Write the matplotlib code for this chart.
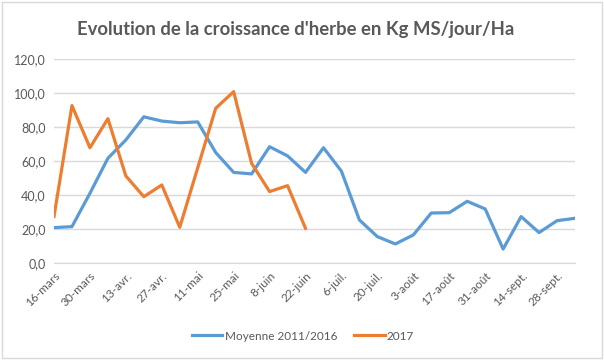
import matplotlib.pyplot as plt
from matplotlib.patches import Rectangle

plt.rcParams['font.family'] = ['Lato', 'DejaVu Sans']

# semaines du 16-mars au 5-oct.
semaines = ['16-mars', '23-mars', '30-mars', '6-avr.', '13-avr.', '20-avr.', '27-avr.', '4-mai',
            '11-mai', '18-mai', '25-mai', '1-juin', '8-juin', '15-juin', '22-juin', '29-juin',
            '6-juil.', '13-juil.', '20-juil.', '27-juil.', '3-août', '10-août', '17-août', '24-août',
            '31-août', '7-sept.', '14-sept.', '21-sept.', '28-sept.', '5-oct.']
moyenne = [20.8, 21.4, 41.0, 61.6, 72.4, 86.0, 83.5, 82.5, 83.0, 65.0,
           53.3, 52.4, 68.4, 63.0, 53.3, 67.8, 54.0, 25.3, 15.5, 11.2,
           16.5, 29.4, 29.6, 36.3, 31.8, 8.2, 27.3, 17.9, 24.9, 26.3]
annee_2017 = [27.3, 92.6, 67.8, 84.9, 51.2, 39.0, 45.9, 21.0, 56.0, 91.0,
              100.8, 58.6, 42.0, 45.5, 20.4]

fig = plt.figure(figsize=[6.04, 3.6], dpi=100)
ax = fig.add_axes([54/604, 1-263/360, (575-54)/604, (263-59)/360])

x = list(range(len(semaines)))
ax.plot(x, moyenne, color='#5B9BD5', lw=2.3, label='Moyenne 2011/2016', solid_joinstyle='round')
ax.plot(x[:len(annee_2017)], annee_2017, color='#ED7D31', lw=2.3, label='2017', solid_joinstyle='round')

ax.set_xlim(0, len(semaines)-1)
ax.set_ylim(0, 120)
ax.set_yticks(range(0, 121, 20))
ax.set_yticklabels(['%d,0' % v for v in range(0, 121, 20)])
ax.set_xticks(x[::2])
ax.set_xticklabels(semaines[::2], rotation=45, ha='right', rotation_mode='anchor')
ax.grid(axis='y', color='#D9D9D9', lw=1)
ax.set_axisbelow(True)
for s in ['top', 'right', 'left']:
    ax.spines[s].set_visible(False)
ax.spines['bottom'].set_color('#D9D9D9')
ax.tick_params(length=0, labelsize=9, colors='#595959', pad=6)
ax.tick_params(axis='x', labelsize=8.5, pad=5)

fig.text(296/604, 1-30/360, "Evolution de la croissance d'herbe en Kg MS/jour/Ha",
         ha='center', va='center', fontsize=13.3, fontweight='bold', color='#595959')

ax.legend(loc='center', bbox_to_anchor=(303/604 * 604/521 - 54/521, (263-336)/204), ncol=2,
          frameon=False, fontsize=8.5, labelcolor='#595959', handlelength=2.6,
          columnspacing=1.4, handletextpad=0.2)

fig.patches.append(Rectangle((0.003, 0.005), 0.994, 0.99, transform=fig.transFigure,
                             fill=False, edgecolor='#D9D9D9', lw=1))

fig.savefig('out.png', dpi=100)
